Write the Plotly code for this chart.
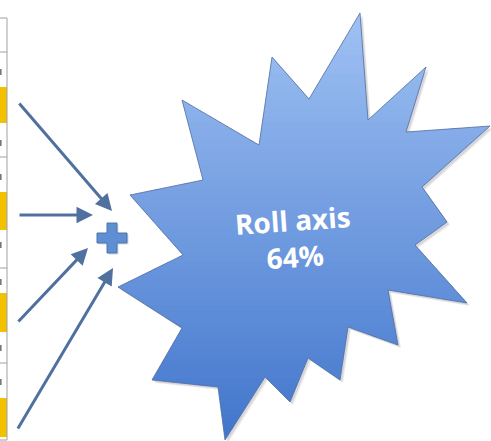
import plotly.graph_objects as go

# ---- content ----
label_text = "Roll axis"
label_value = 64  # percent

# left table (partially visible column): cell boundaries and highlighted cells (px)
table_lines_y = [18, 52, 157, 268, 363, 440]
yellow_cells = [(87, 123), (192, 230), (293, 332), (398, 437)]
cut_text_y = [72, 143, 177, 245, 282, 348, 382]

# arrows (start -> end), px
arrow_starts = [(18, 102), (18, 215), (17, 323), (17, 430)]
arrow_ends = [(112, 211), (93, 215), (88, 248), (113, 268)]

# starburst outline vertices (px)
star_x = [360, 368, 426, 406, 490, 422, 447, 415, 467, 388, 398, 348, 340, 308,
          290, 265, 225, 218, 152, 182, 118, 183, 130, 203, 182, 259, 272, 309]
star_y = [13, 120, 67, 132, 126, 187, 222, 245, 303, 290, 345, 327, 380, 358,
          402, 377, 440, 387, 380, 328, 287, 255, 195, 180, 100, 145, 57, 99]

W, H = 491, 441
fig = go.Figure()
shapes = []
annotations = []


def poly_path(pts):
    return "M " + " L ".join(f"{x:.2f},{y:.2f}" for x, y in pts) + " Z"


def clip(poly, yv, keep_below):
    out = []
    n = len(poly)
    for i in range(n):
        a = poly[i]
        b = poly[(i + 1) % n]
        ina = (a[1] >= yv) if keep_below else (a[1] <= yv)
        inb = (b[1] >= yv) if keep_below else (b[1] <= yv)
        if ina:
            out.append(a)
        if ina != inb:
            t = (yv - a[1]) / (b[1] - a[1])
            out.append((a[0] + t * (b[0] - a[0]), yv))
    return out


star = list(zip(star_x, star_y))

# soft shadow
for off, op in [(3, 0.10), (2, 0.12)]:
    shapes.append(dict(type="path", xref="x", yref="y",
                       path=poly_path([(x + off, y + off) for x, y in star]),
                       fillcolor=f"rgba(60,60,80,{op})", line=dict(width=0), layer="below"))

# gradient fill in horizontal bands
top_c = (160, 194, 244)
bot_c = (66, 118, 204)
ymin, ymax = min(star_y), max(star_y)
nb = 70
step = (ymax - ymin) / nb
for i in range(nb):
    y0 = ymin + i * step - 0.6
    y1 = ymin + (i + 1) * step + 0.6
    p = clip(clip(star, y0, True), y1, False)
    if len(p) < 3:
        continue
    t = (i + 0.5) / nb
    c = tuple(int(top_c[k] + (bot_c[k] - top_c[k]) * t) for k in range(3))
    shapes.append(dict(type="path", xref="x", yref="y", path=poly_path(p),
                       fillcolor=f"rgb{c}", line=dict(width=0), layer="below"))

# outline
shapes.append(dict(type="path", xref="x", yref="y", path=poly_path(star),
                   fillcolor="rgba(0,0,0,0)", line=dict(color="rgba(80,110,160,0.8)", width=1),
                   layer="below"))

# left table
for y0, y1 in yellow_cells:
    shapes.append(dict(type="rect", xref="x", yref="y", x0=-2, x1=7, y0=y0, y1=y1,
                       fillcolor="#f2c200", line=dict(width=0), layer="below"))
shapes.append(dict(type="line", xref="x", yref="y", x0=7, x1=7, y0=table_lines_y[0],
                   y1=table_lines_y[-1], line=dict(color="#a0a0a0", width=1)))
for ty in table_lines_y:
    shapes.append(dict(type="line", xref="x", yref="y", x0=-2, x1=7, y0=ty, y1=ty,
                       line=dict(color="#a0a0a0", width=1)))
# clipped glyph fragments of the cut-off table text
for ty in cut_text_y:
    shapes.append(dict(type="rect", xref="x", yref="y", x0=0, x1=1.6, y0=ty - 3, y1=ty + 3,
                       fillcolor="#777", line=dict(width=0)))

# plus sign
cx, cy, L, A = 112, 238, 15, 5
plus = [(cx - A, cy - L), (cx + A, cy - L), (cx + A, cy - A), (cx + L, cy - A), (cx + L, cy + A),
        (cx + A, cy + A), (cx + A, cy + L), (cx - A, cy + L), (cx - A, cy + A), (cx - L, cy + A),
        (cx - L, cy - A), (cx - A, cy - A)]
shapes.append(dict(type="path", xref="x", yref="y",
                   path=poly_path([(x + 1.5, y + 1.5) for x, y in plus]),
                   fillcolor="rgba(60,60,80,0.18)", line=dict(width=0)))
shapes.append(dict(type="path", xref="x", yref="y", path=poly_path(plus),
                   fillcolor="#5e8fd2", line=dict(color="#4a74ad", width=1)))

# arrows
for (sx, sy), (ex, ey) in zip(arrow_starts, arrow_ends):
    annotations.append(dict(x=ex, y=ey, ax=sx, ay=sy, xref="x", yref="y", axref="x", ayref="y",
                            text="", showarrow=True, arrowhead=2, arrowsize=1.1, arrowwidth=3,
                            arrowcolor="#50709f"))

# label
annotations.append(dict(x=294, y=238, xref="x", yref="y", showarrow=False,
                        text=f"<b>{label_text}<br>{label_value}%</b>", textangle=-4,
                        font=dict(family="Open Sans, Lato, sans-serif", size=28, color="white"),
                        align="center"))

fig.update_layout(
    width=W, height=H, margin=dict(l=0, r=0, t=0, b=0),
    paper_bgcolor="white", plot_bgcolor="white",
    xaxis=dict(range=[0, W], visible=False, fixedrange=True),
    yaxis=dict(range=[H, 0], visible=False, fixedrange=True),
    shapes=shapes, annotations=annotations, showlegend=False,
)
fig.write_html("out.html", config={"displayModeBar": False},
               post_script="document.body.style.margin='0px';document.body.style.overflow='hidden';")
